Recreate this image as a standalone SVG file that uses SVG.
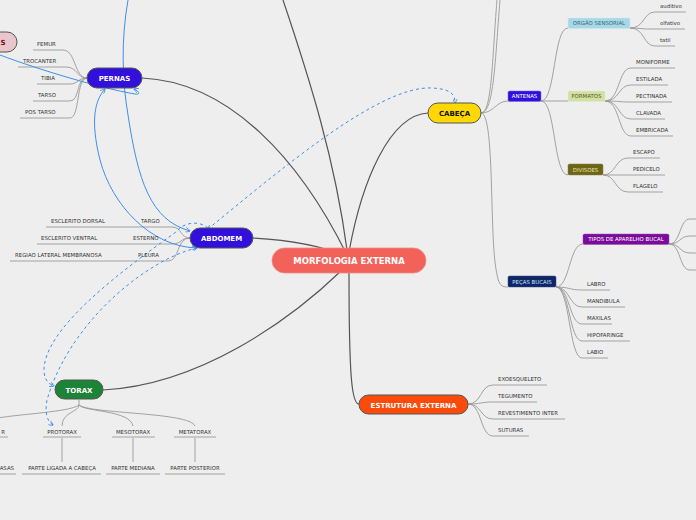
<svg xmlns="http://www.w3.org/2000/svg" width="696" height="520" viewBox="0 0 696 520">
<defs>
<marker id="ab" viewBox="0 0 10 10" refX="9" refY="5" markerWidth="5" markerHeight="5" orient="auto-start-reverse">
<path d="M0,0 L10,5 L0,10" fill="none" stroke="#3d8fe8" stroke-width="1.6"/>
</marker>
</defs>
<style>
.main{fill:none;stroke:#555;stroke-width:1.2}
.br{fill:none;stroke:#999;stroke-width:0.9}
.blue{fill:none;stroke:#3d8fe8;stroke-width:1}
.dash{fill:none;stroke:#3d8fe8;stroke-width:1;stroke-dasharray:3,3}
.lbl{font-family:"DejaVu Sans",sans-serif;font-size:5.4px;fill:#333}
.nt{font-family:"DejaVu Sans",sans-serif;font-weight:bold;text-anchor:middle}
.st{font-family:"DejaVu Sans",sans-serif;font-size:5.4px;text-anchor:middle}
</style>
<rect width="696" height="520" fill="#eeeeee"/>

<g id="connectors">
<path class="main" d="M142,78 C230,82 300,160 347,255"/>
<path class="main" d="M253,238 C290,240 320,245 345,256"/>
<path class="main" d="M103,390 C200,385 290,320 341,271"/>
<path class="main" d="M428,113 C390,115 362,180 349,252"/>
<path class="main" d="M359,404 C352,404 349,380 349,272"/>
<path class="main" d="M283,0 C310,80 335,160 347,250"/>
<path class="br" d="M33,50 L63,50 C76,50 74,78 87,78"/>
<path class="br" d="M18,67 L66,67 C78,67 76,78 87,78"/>
<path class="br" d="M37,84 L70,84 C78,84 78,78 87,78"/>
<path class="br" d="M33,101 L70,101 C80,101 76,78 87,78"/>
<path class="br" d="M20,118 L70,118 C80,118 76,78 87,78"/>
<path class="br" d="M46,227 L172,227 C182,227 180,238 190,238"/>
<path class="br" d="M37,244 L172,244 C182,244 180,238 190,238"/>
<path class="br" d="M10,261 L168,261 C180,261 176,238 190,238"/>
<path class="br" d="M79,400 L79,405 C79,412 62,412 62,426"/>
<path class="br" d="M79,405 C85,412 130,410 133,426"/>
<path class="br" d="M79,405 C90,414 190,412 195,426"/>
<path class="br" d="M79,405 C70,412 20,414 -2,418"/>
<path class="br" d="M-5,437 L8,437 M43,437 L81,437 M112,437 L155,437 M174,437 L216,437"/>
<path class="br" d="M62,438 L62,462 M133,438 L133,462 M195,438 L195,462"/>
<path class="br" d="M-5,474 L16,474 M22,474 L101,474 M106,474 L160,474 M165,474 L225,474"/>
<path class="br" d="M481,113 C492,113 492,60 497,0"/>
<path class="br" d="M481,113 C494,113 495,60 500,0"/>
<path class="br" d="M481,113 C494,113 496,101 508,101"/>
<path class="br" d="M481,113 C494,113 490,220 495,262 C498,285 500,287 508,287"/>
<path class="br" d="M541,101 C556,101 553,28 568,28"/>
<path class="br" d="M541,101 L568,101"/>
<path class="br" d="M541,101 C556,101 553,175 568,175"/>
<path class="br" d="M630,28 C645,28 643,12 655,12 L686,12"/>
<path class="br" d="M630,28 C640,28 640,29 650,29 L685,29"/>
<path class="br" d="M630,28 C645,28 643,46 655,46 L675,46"/>
<path class="br" d="M605,101 C620,101 618,68 631,68 L675,68"/>
<path class="br" d="M605,101 C620,101 618,85 631,85 L668,85"/>
<path class="br" d="M605,101 C620,101 618,102 631,102 L672,102"/>
<path class="br" d="M605,101 C620,101 618,119 631,119 L665,119"/>
<path class="br" d="M605,101 C620,101 618,136 631,136 L673,136"/>
<path class="br" d="M603,175 C616,175 615,158 628,158 L660,158"/>
<path class="br" d="M603,175 L628,175 L665,175"/>
<path class="br" d="M603,175 C616,175 615,192 628,192 L663,192"/>
<path class="br" d="M556,287 C570,287 569,244 583,244"/>
<path class="br" d="M556,287 C570,287 569,290 582,290 L610,290"/>
<path class="br" d="M556,287 C570,287 569,307 582,307 L625,307"/>
<path class="br" d="M556,287 C570,287 569,324 582,324 L612,324"/>
<path class="br" d="M556,287 C570,287 569,341 582,341 L630,341"/>
<path class="br" d="M556,287 C570,287 569,358 582,358 L608,358"/>
<path class="br" d="M669,244 C681,244 679,219 690,219 L696,219"/>
<path class="br" d="M669,244 C681,244 679,236 690,236 L696,236"/>
<path class="br" d="M669,244 C681,244 679,253 690,253 L696,253"/>
<path class="br" d="M669,244 C681,244 679,270 690,270 L696,270"/>
<path class="br" d="M468,404 C482,404 480,385 493,385 L547,385"/>
<path class="br" d="M468,404 C482,404 480,402 493,402 L537,402"/>
<path class="br" d="M468,404 C482,404 480,419 493,419 L565,419"/>
<path class="br" d="M468,404 C482,404 480,436 493,436 L529,436"/>
<path class="blue" marker-end="url(#ab)" d="M128,0 C121,40 122,80 128,115 C138,180 150,220 190,231"/>
<path class="blue" marker-start="url(#ab)" marker-end="url(#ab)" d="M196,248 C150,246 112,205 100,160 C90,120 95,100 105,89"/>
<path class="blue" marker-end="url(#ab)" d="M0,55 C40,70 100,88 135,94 C141,95 139,91 134,89"/>
<path class="dash" marker-start="url(#ab)" marker-end="url(#ab)" d="M208,229 C280,170 380,85 432,88 C452,89 455,95 455,103"/>
<path class="dash" marker-end="url(#ab)" d="M208,228 C200,221 185,221 176,232 C120,272 42,330 44,372 C45,381 49,384 54,386"/>
<path class="dash" marker-start="url(#ab)" marker-end="url(#ab)" d="M53,425 C46,421 45,410 47,400 C70,320 150,258 197,248"/>
</g>

<g id="n-central">
<rect x="272" y="248" width="154" height="25" rx="12.5" fill="#f2625a" stroke="#f08a84" stroke-width="0.8"/>
<text class="nt" x="349" y="264" font-size="8.5" fill="#ffffff">MORFOLOGIA EXTERNA</text>
</g>
<g id="n-s">
<rect x="-40" y="32" width="57" height="20" rx="10" fill="#e8c6cc" stroke="#555" stroke-width="1"/>
<text class="nt" x="3" y="45" font-size="7" fill="#6b1020">S</text>
</g>
<g id="n-pernas">
<rect x="87" y="68" width="55" height="20" rx="10" fill="#3210dc" stroke="#555" stroke-width="1"/>
<text class="nt" x="114.5" y="81" font-size="7" fill="#ffffff">PERNAS</text>
</g>
<g id="pernas-children" class="lbl">
<text x="37" y="46">FEMUR</text>
<text x="23" y="63">TROCANTER</text>
<text x="41" y="80">TIBIA</text>
<text x="38" y="97">TARSO</text>
<text x="25" y="114">POS TARSO</text>
</g>
<g id="n-abdomem">
<rect x="190" y="228" width="63" height="20" rx="10" fill="#3210dc" stroke="#555" stroke-width="1"/>
<text class="nt" x="221.5" y="241" font-size="7" fill="#ffffff">ABDOMEM</text>
</g>
<g id="abdomem-children" class="lbl">
<text x="141" y="223">TARGO</text>
<text x="133" y="240">ESTERNO</text>
<text x="138" y="257">PLEURA</text>
<text x="51" y="223">ESCLERITO DORSAL</text>
<text x="41" y="240">ESCLERITO VENTRAL</text>
<text x="15" y="257">REGIAO LATERAL MEMBRANOSA</text>
</g>
<g id="n-torax">
<rect x="55" y="380" width="48" height="19" rx="9.5" fill="#1c8436" stroke="#555" stroke-width="1"/>
<text class="nt" x="79" y="392.5" font-size="7" fill="#ffffff">TORAX</text>
</g>
<g id="torax-children" class="lbl" text-anchor="middle">
<text x="5" y="434" style="text-anchor:end">R</text>
<text x="62" y="434">PROTORAX</text>
<text x="133" y="434">MESOTORAX</text>
<text x="195" y="434">METATORAX</text>
<text x="14" y="470" style="text-anchor:end">ASAS</text>
<text x="62" y="470">PARTE LIGADA A CABEÇA</text>
<text x="133" y="470">PARTE MEDIANA</text>
<text x="195" y="470">PARTE POSTERIOR</text>
</g>
<g id="n-cabeca">
<rect x="428" y="103" width="53" height="20" rx="10" fill="#ffd800" stroke="#555" stroke-width="1"/>
<text class="nt" x="454.5" y="116" font-size="7" fill="#111">CABEÇA</text>
</g>
<g id="n-antenas">
<rect x="508" y="91" width="33" height="10.5" rx="1.5" fill="#3210dc" stroke="#7a66ee" stroke-width="0.5"/>
<text class="st" x="524.5" y="98.2" fill="#ffffff">ANTENAS</text>
</g>
<g id="n-orgao">
<rect x="568" y="18" width="62" height="10.5" rx="1.5" fill="#a6d8e6" stroke="#c8e8f0" stroke-width="0.5"/>
<text class="st" x="599" y="25.2" fill="#3a6878">ORGÃO SENSORIAL</text>
</g>
<g id="orgao-children" class="lbl">
<text x="660" y="8">auditivo</text>
<text x="660" y="25">olfativo</text>
<text x="660" y="42">tatil</text>
</g>
<g id="n-formatos">
<rect x="568" y="91" width="37" height="10.5" rx="1.5" fill="#d2e0a2" stroke="#e2ecc0" stroke-width="0.5"/>
<text class="st" x="586.5" y="98.2" fill="#4f5a26">FORMATOS</text>
</g>
<g id="formatos-children" class="lbl">
<text x="636" y="64">MONIFORME</text>
<text x="636" y="81">ESTILADA</text>
<text x="636" y="98">PECTINADA</text>
<text x="636" y="115">CLAVADA</text>
<text x="636" y="132">EMBRICADA</text>
</g>
<g id="n-divisoes">
<rect x="568" y="164" width="35" height="11" rx="1.5" fill="#6c6416" stroke="#8a8240" stroke-width="0.5"/>
<text class="st" x="585.5" y="171.5" fill="#ece4a8">DIVISOES</text>
</g>
<g id="divisoes-children" class="lbl">
<text x="633" y="154">ESCAPO</text>
<text x="633" y="171">PEDICELO</text>
<text x="633" y="188">FLAGELO</text>
</g>
<g id="n-pecas">
<rect x="508" y="276" width="48" height="11" rx="1.5" fill="#0c2668" stroke="#3a4f88" stroke-width="0.5"/>
<text class="st" x="532" y="283.5" fill="#d8e0f4">PEÇAS BUCAIS</text>
</g>
<g id="n-tipos">
<rect x="583" y="234" width="86" height="10.5" rx="1.5" fill="#7a0c9a" stroke="#9a4ab8" stroke-width="0.5"/>
<text class="st" x="626" y="241.2" fill="#ffffff">TIPOS DE APARELHO BUCAL</text>
</g>
<g id="pecas-children" class="lbl">
<text x="587" y="286">LABRO</text>
<text x="587" y="303">MANDIBULA</text>
<text x="587" y="320">MAXILAS</text>
<text x="587" y="337">HIPOFARINGE</text>
<text x="587" y="354">LABIO</text>
</g>
<g id="n-estrutura">
<rect x="359" y="395" width="109" height="19" rx="9.5" fill="#fc4a0a" stroke="#555" stroke-width="1"/>
<text class="nt" x="413.5" y="407.5" font-size="7" fill="#ffffff">ESTRUTURA EXTERNA</text>
</g>
<g id="estrutura-children" class="lbl">
<text x="498" y="381">EXOESQUELETO</text>
<text x="498" y="398">TEGUMENTO</text>
<text x="498" y="415">REVESTIMENTO INTER</text>
<text x="498" y="432">SUTURAS</text>
</g>
</svg>
